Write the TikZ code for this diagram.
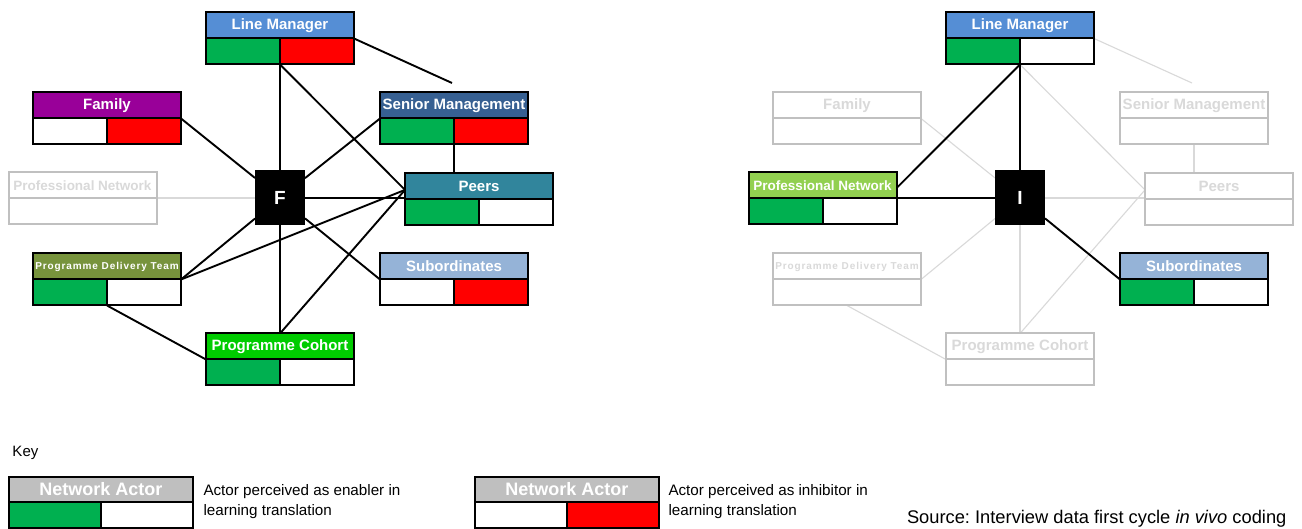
\documentclass[tikz,border=0pt]{standalone}
\usepackage{fontspec}
\setmainfont{Liberation Sans}
\newfontfamily\spacedfont{Liberation Sans}[LetterSpace=9]
\usetikzlibrary{calc}
\frenchspacing

\definecolor{lmblue}{HTML}{558ED5}
\definecolor{fampurple}{HTML}{990099}
\definecolor{smblue}{HTML}{376092}
\definecolor{peerteal}{HTML}{31859C}
\definecolor{pnlime}{HTML}{92D050}
\definecolor{pdtolive}{HTML}{77933C}
\definecolor{subblue}{HTML}{95B3D7}
\definecolor{pcgreen}{HTML}{00CC00}
\definecolor{okgreen}{HTML}{00B050}
\definecolor{badred}{HTML}{FF0000}
\definecolor{keygrey}{HTML}{BFBFBF}
\definecolor{fadeline}{HTML}{C0C0C0}
\definecolor{fadetext}{HTML}{D9D9D9}
\definecolor{fadelink}{HTML}{D9D9D9}

\tikzset{
  every node/.style={inner sep=0pt, outer sep=0pt},
  box/.style={minimum width=148pt, minimum height=52pt},
  head/.style={draw=black, line width=2pt, minimum width=148pt, minimum height=26pt,
    text=white, font=\bfseries\fontsize{15}{18}\selectfont},
  half/.style={draw=black, line width=2pt, minimum width=74pt, minimum height=26pt},
  whole/.style={line width=2pt, minimum width=148pt, minimum height=26pt},
  faded/.style={draw=fadeline, text=fadetext},
  hub/.style={fill=black, minimum width=50pt, minimum height=55pt, text=white,
    font=\bfseries\fontsize{19}{23}\selectfont},
  link/.style={line width=1.9pt, black},
  fadedlink/.style={line width=1.1pt, fadelink},
  keyhead/.style={draw=black, line width=2pt, fill=keygrey, minimum width=184pt, minimum height=25pt,
    text=white, font=\bfseries\fontsize{18}{21}\selectfont},
  keyhalf/.style={draw=black, line width=2pt, minimum width=92pt, minimum height=25.5pt},
  keytext/.style={anchor=west, align=left, font=\fontsize{15.2}{20}\selectfont},
}

\begin{document}
\begin{tikzpicture}[x=1pt, y=-1pt]
\useasboundingbox[fill=white] (0,0) rectangle (1302,529);

% ---------------- left network (F) ----------------
\node[box] (lmA) at (280,38.5) {};
\node[box] (famA) at (107,118.5) {};
\node[box] (smA) at (454,118.5) {};
\node[box] (pnA) at (82.5,198.5) {};
\node[box] (peerA) at (479,199) {};
\node[box] (pdtA) at (107,279.5) {};
\node[box] (subA) at (454,279.5) {};
\node[box] (pcA) at (280,359.5) {};
\node[hub] (F) at (280,198) {F};
\coordinate (lmAend) at (452,83);
\coordinate (peerAin) at ($(peerA.north west)!0.65!(peerA.west)$);

% links
\draw[fadedlink] (F.west) -- (F.west -| pnA.east);
\draw[link] (lmA.south) -- (F.north);
\draw[link] (lmA.south) -- (peerAin);
\draw[link] (lmA.east) -- (lmAend);
\draw[link] (famA.east) -- (F);
\draw[link] (smA.west) -- (F);
\draw[link] (smA.south) -- (smA.south |- peerA.north);
\draw[link] (F.east) -- (F.east -| peerA.west);
\draw[link] (F) -- (subA.west);
\draw[link] (pdtA.east) -- (F);
\draw[link] (pdtA.east) -- (peerAin);
\draw[link] (pdtA.south) -- (pcA.west);
\draw[link] (F.south) -- (pcA.north);
\draw[link] (pcA.north) -- (peerAin);
\node[hub] at (F) {F};

% boxes
\foreach \id/\lab/\hc/\lc/\rc in {
  lmA/Line Manager/lmblue/okgreen/badred,
  famA/Family/fampurple/white/badred,
  smA/Senior Management/smblue/okgreen/badred,
  peerA/Peers/peerteal/okgreen/white,
  subA/Subordinates/subblue/white/badred,
  pcA/Programme Cohort/pcgreen/okgreen/white}{
  \node[head, fill=\hc, anchor=south] (\id-h) at (\id.center) {\lab};
  \node[half, fill=\lc, anchor=north east] (\id-l) at (\id.center) {};
  \node[half, fill=\rc, anchor=north west] (\id-r) at (\id.center) {};
}
\node[head, fill=pdtolive, anchor=south] (pdtA-h) at (pdtA.center)
  {\fontsize{10}{12}\selectfont\spacedfont\bfseries Programme Delivery Team};
\node[half, fill=okgreen, anchor=north east] (pdtA-l) at (pdtA.center) {};
\node[half, fill=white, anchor=north west] (pdtA-r) at (pdtA.center) {};
\node[head, faded, fill=white, anchor=south] (pnA-h) at (pnA.center)
  {\fontsize{13.5}{16}\selectfont Professional Network};
\node[whole, faded, fill=white, anchor=north] (pnA-b) at (pnA.center) {};

% ---------------- right network (I) ----------------
\node[box] (lmB) at (1020,38.5) {};
\node[box] (famB) at (847,118.5) {};
\node[box] (smB) at (1194,118.5) {};
\node[box] (pnB) at (822.5,198.5) {};
\node[box] (peerB) at (1219,199) {};
\node[box] (pdtB) at (847,279.5) {};
\node[box] (subB) at (1194,279.5) {};
\node[box] (pcB) at (1020,359.5) {};
\node[hub] (I) at (1020,198) {I};
\coordinate (lmBend) at (1192,83);
\coordinate (peerBin) at ($(peerB.north west)!0.65!(peerB.west)$);

% faded links
\draw[fadedlink] (lmB.east) -- (lmBend);
\draw[fadedlink] (lmB.south) -- (peerBin);
\draw[fadedlink] (famB.east) -- (I);
\draw[fadedlink] (smB.south) -- (smB.south |- peerB.north);
\draw[fadedlink] (I.east) -- (I.east -| peerB.west);
\draw[fadedlink] (pdtB.east) -- (I);
\draw[fadedlink] (pdtB.south) -- (pcB.west);
\draw[fadedlink] (I.south) -- (pcB.north);
\draw[fadedlink] (pcB.north) -- (peerBin);
% active links
\draw[link] (lmB.south) -- ($(pnB.north east)!0.6!(pnB.east)$);
\draw[link] (lmB.south) -- (I.north);
\draw[link] (I.west) -- (I.west -| pnB.east);
\draw[link] (I) -- (subB.west);
\node[hub] at (I) {I};

% boxes
\foreach \id/\lab/\hc in {lmB/Line Manager/lmblue, subB/Subordinates/subblue}{
  \node[head, fill=\hc, anchor=south] (\id-h) at (\id.center) {\lab};
  \node[half, fill=okgreen, anchor=north east] (\id-l) at (\id.center) {};
  \node[half, fill=white, anchor=north west] (\id-r) at (\id.center) {};
}
\node[head, fill=pnlime, anchor=south] (pnB-h) at (pnB.center)
  {\fontsize{13.5}{16}\selectfont Professional Network};
\node[half, fill=okgreen, anchor=north east] (pnB-l) at (pnB.center) {};
\node[half, fill=white, anchor=north west] (pnB-r) at (pnB.center) {};
\foreach \id/\lab in {famB/Family, smB/Senior Management, peerB/Peers, pcB/Programme Cohort}{
  \node[head, faded, fill=white, anchor=south] (\id-h) at (\id.center) {\lab};
  \node[whole, faded, fill=white, anchor=north] (\id-b) at (\id.center) {};
}
\node[head, faded, fill=white, anchor=south] (pdtB-h) at (pdtB.center)
  {\fontsize{10}{12}\selectfont\spacedfont\bfseries Programme Delivery Team};
\node[whole, faded, fill=white, anchor=north] (pdtB-b) at (pdtB.center) {};

% ---------------- key ----------------
\node[anchor=west, font=\fontsize{15}{18}\selectfont] (keylabel) at (12.5,452.5) {Key};

\node[keyhead] (kA-h) at (101,489.5) {Network Actor};
\node[keyhalf, fill=okgreen] (kA-l) at (55,514.75) {};
\node[keyhalf, fill=white] (kA-r) at (147,514.75) {};
\node[keytext] (kA-t) at (203.5,501.7) {Actor perceived as enabler in\\learning translation};

\node[keyhead] (kB-h) at (567,489.5) {Network Actor};
\node[keyhalf, fill=white] (kB-l) at (521,514.75) {};
\node[keyhalf, fill=badred] (kB-r) at (613,514.75) {};
\node[keytext] (kB-t) at (668.5,501.7) {Actor perceived as inhibitor in\\learning translation};

\node[anchor=west, font=\fontsize{18.3}{22}\selectfont] (source) at (907,519)
  {Source: Interview data first cycle \textit{in vivo} coding};
\end{tikzpicture}
\end{document}
